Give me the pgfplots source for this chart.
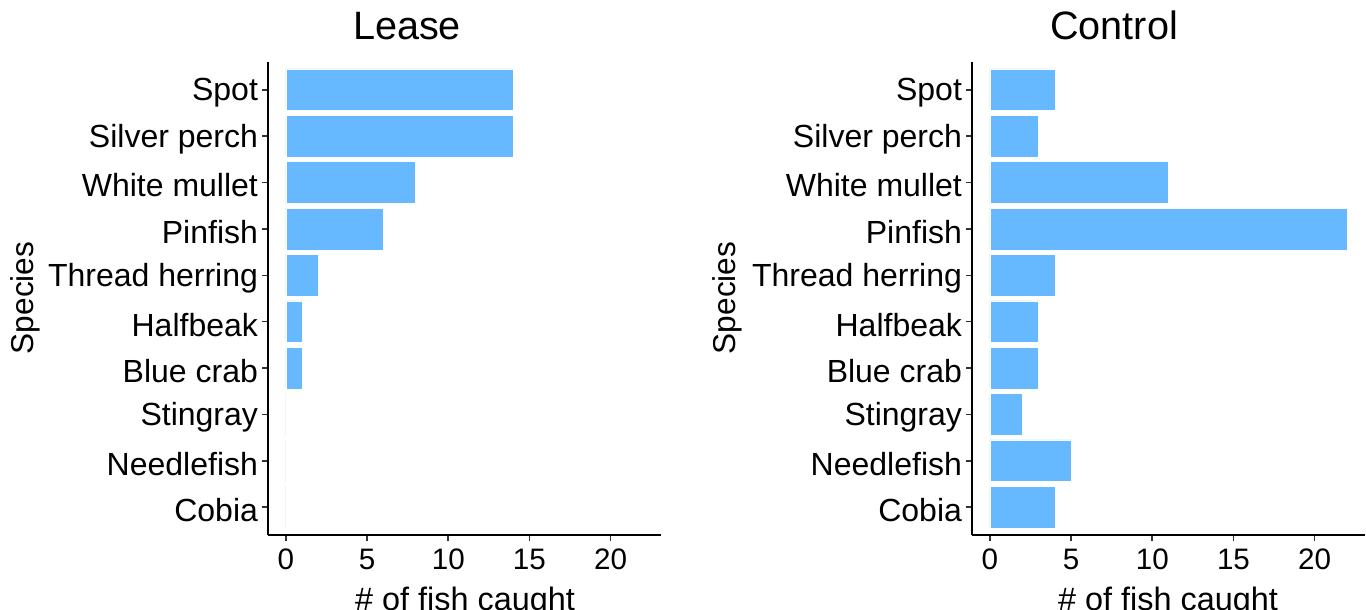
\documentclass[border=0pt]{standalone}
\usepackage{pgfplots}
\pgfplotsset{compat=1.18}
\usepackage{fontspec}
\setmainfont{Liberation Sans}
\definecolor{barblue}{RGB}{102,184,255}
\definecolor{tickgray}{RGB}{51,51,51}
\pgfplotsset{
  fishpanel/.style={
    scale only axis,
    width=196.5pt, height=236.5pt,
    xmin=-1.1, xmax=23.1, ymin=0.4, ymax=10.6,
    axis lines*=left,
    axis line style={black, line width=0.8pt},
    every tick/.style={tickgray, line width=0.8pt},
    tick align=outside,
    major tick length=3pt,
    xtick={0,5,10,15,20},
    ytick={1,2,3,4,5,6,7,8,9,10},
    yticklabels={Cobia,Needlefish,Stingray,Blue crab,Halfbeak,Thread herring,Pinfish,White mullet,Silver perch,Spot},
    /pgf/number format/assume math mode=true,
    xticklabel style={font=\fontsize{14.8}{16}\selectfont, text=black, yshift=-0.5pt},
    yticklabel style={font=\fontsize{16}{18}\selectfont, text=black, xshift=1.5pt, yshift=-1.5pt},
    xbar, bar width=0.9, bar shift=0pt,
    clip=false,
  }
}
\begin{document}
\begin{tikzpicture}
\path[use as bounding box, clip] (0,0) rectangle (683pt,305pt);
\begin{axis}[fishpanel, at={(134pt,37.5pt)}, anchor=south west]
\addplot[fill=barblue, draw=white, line width=0.3pt] coordinates {
(0,1) (0,2) (0,3) (1,4) (1,5) (2,6) (6,7) (8,8) (14,9) (14,10)};
\end{axis}
\begin{axis}[fishpanel, at={(486pt,37.5pt)}, anchor=south west]
\addplot[fill=barblue, draw=white, line width=0.3pt] coordinates {
(4,1) (5,2) (2,3) (3,4) (3,5) (4,6) (22,7) (11,8) (3,9) (4,10)};
\end{axis}
\node[anchor=base, font=\fontsize{19.8}{22}\selectfont] at (203.5pt,285pt) {Lease};
\node[anchor=base, font=\fontsize{19.8}{22}\selectfont] at (557pt,285pt) {Control};
\node[rotate=90, font=\fontsize{15.8}{18}\selectfont] at (12.5pt,156pt) {Species};
\node[rotate=90, font=\fontsize{15.8}{18}\selectfont] at (363.5pt,156pt) {Species};
\node[anchor=base, font=\fontsize{16.2}{18}\selectfont] at (232.5pt,-0.5pt) {\# of fish caught};
\node[anchor=base, font=\fontsize{16.2}{18}\selectfont] at (584pt,-0.5pt) {\# of fish caught};
\end{tikzpicture}
\end{document}
